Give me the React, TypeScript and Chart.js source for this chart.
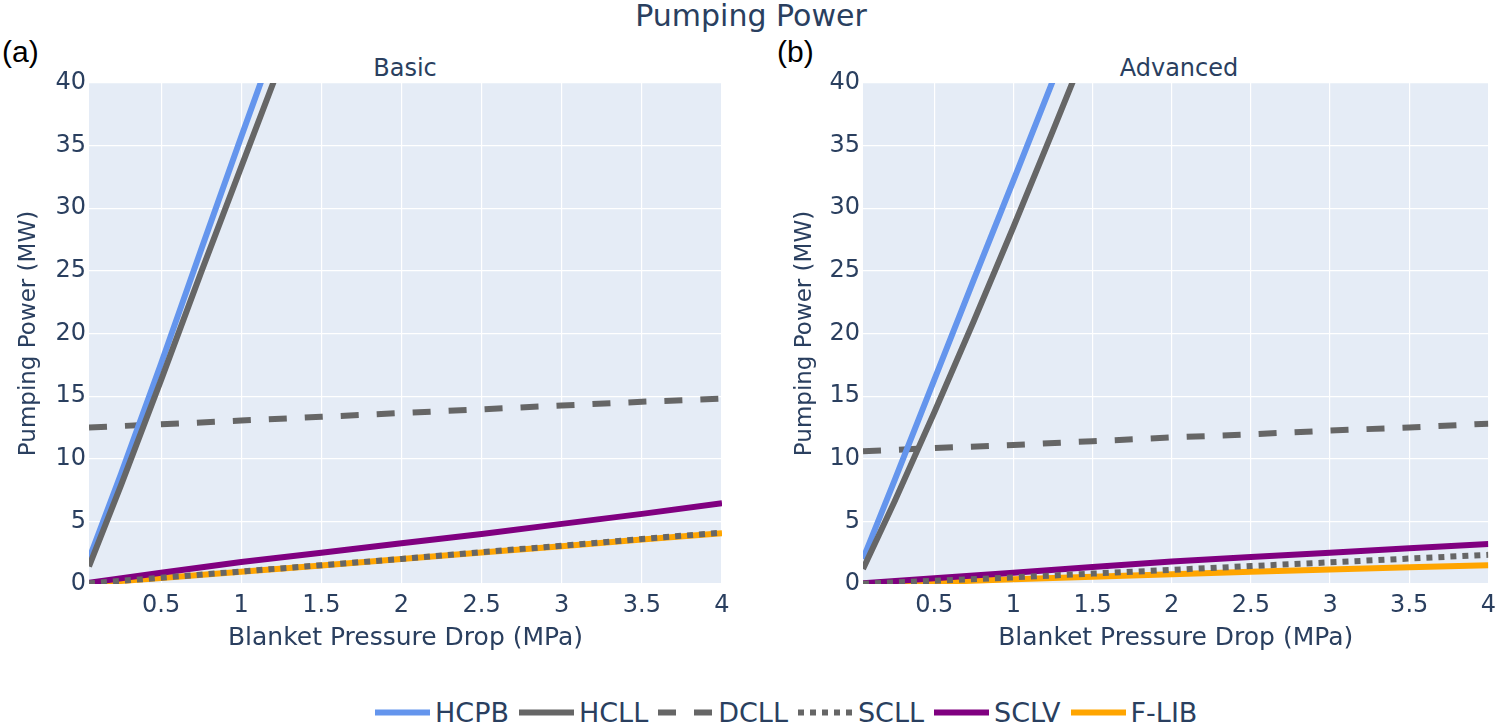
import React, { useEffect, useRef } from 'react'
import { Chart, registerables } from 'chart.js'

Chart.register(...registerables)

// pressure drop (MPa) sample points
const pressureDrop = [0.05, 0.5, 1, 1.5, 2, 2.5, 3, 3.5, 4]
const heliumDrop = [0.05, 0.25, 0.5, 0.75, 1, 1.25, 1.5]
const xTicks = [0.5, 1, 1.5, 2, 2.5, 3, 3.5, 4]

// Basic blankets (MW)
const hcpbBasic = [2.0, 8.8, 17.6, 26.7, 35.7, 44.6, 53.5]
const hcllBasic = [1.4, 7.9, 16.3, 24.9, 33.3, 41.7, 50.1]
const dcllBasic = [12.5, 12.75, 13.05, 13.35, 13.65, 13.95, 14.25, 14.55, 14.8]
const scllBasic = [0.05, 0.5, 1.0, 1.5, 2.0, 2.55, 3.05, 3.6, 4.1]
const sclvBasic = [0.1, 0.9, 1.75, 2.5, 3.25, 4.0, 4.8, 5.6, 6.45]
const flibBasic = [0.05, 0.48, 0.98, 1.48, 2.0, 2.52, 3.02, 3.55, 4.05]

// Advanced blankets (MW)
const hcpbAdv = [2.0, 8.3, 16.3, 24.3, 32.2, 40.2, 48.1]
const hcllAdv = [1.2, 6.6, 13.7, 21.0, 28.5, 36.2, 44.0]
const dcllAdv = [10.6, 10.85, 11.1, 11.4, 11.7, 11.95, 12.25, 12.5, 12.8]
const scllAdv = [0.02, 0.25, 0.53, 0.83, 1.13, 1.43, 1.73, 2.03, 2.33]
const sclvAdv = [0.05, 0.45, 0.9, 1.35, 1.8, 2.15, 2.5, 2.85, 3.2]
const flibAdv = [0.0, 0.15, 0.38, 0.58, 0.78, 0.97, 1.15, 1.33, 1.5]

const names = ['HCPB', 'HCLL', 'DCLL', 'SCLL', 'SCLV', 'F-LIB']
const colors = ['#6495ED', '#666666', '#666666', '#666666', '#800080', '#FFA500']
const dashes = [[], [], [18, 18], [6, 6], [], []]
const drawOrder = [1, 0, 2, 3, 4, 5]

const textColor = '#2a3f5f'
const font = 'DejaVu Sans'

const plotBg = {
	id: 'plotBg',
	beforeDraw(chart: Chart) {
		const { ctx, chartArea } = chart
		ctx.save()
		ctx.fillStyle = '#E5ECF6'
		ctx.fillRect(chartArea.left, chartArea.top, chartArea.width, chartArea.height)
		ctx.restore()
	},
}

const pair = (xs: number[], ys: number[]) => ys.map((y, i) => ({ x: xs[i], y }))

interface PanelProps {
	series: number[][]
	axisWidth: number
	padRight: number
	titlePad: number
	width: number
}

const Panel: React.FC<PanelProps> = ({ series, axisWidth, padRight, titlePad, width }) => {
	const canvasRef = useRef<HTMLCanvasElement>(null)

	useEffect(() => {
		if (!canvasRef.current) return
		const datasets = series.map((ys, i) => ({
			label: names[i],
			data: pair(i < 2 ? heliumDrop : pressureDrop, ys),
			borderColor: colors[i],
			backgroundColor: colors[i],
			borderWidth: 6,
			borderDash: dashes[i],
			borderCapStyle: 'butt' as const,
			pointRadius: 0,
			showLine: true,
			fill: false,
			tension: 0,
			clip: 0,
			order: drawOrder[i],
		}))

		const chart = new Chart(canvasRef.current, {
			type: 'scatter',
			data: { datasets },
			plugins: [plotBg],
			options: {
				animation: false,
				responsive: true,
				maintainAspectRatio: false,
				layout: { padding: { top: 23, right: padRight, left: 0, bottom: 0 } },
				plugins: { legend: { display: false }, tooltip: { enabled: false } },
				scales: {
					x: {
						type: 'linear',
						min: 0.05,
						max: 4,
						afterBuildTicks: (scale: any) => {
							scale.ticks = xTicks.map((value) => ({ value }))
						},
						afterFit: (scale: any) => {
							scale.height = 76
						},
						ticks: {
							color: textColor,
							font: { family: font, size: 24 },
							padding: 7,
							maxRotation: 0,
							autoSkip: false,
							callback: (v: any) => String(v),
						},
						grid: { color: '#ffffff', lineWidth: 1.2, drawTicks: false },
						border: { display: false },
						title: {
							display: true,
							text: 'Blanket Pressure Drop (MPa)',
							color: textColor,
							font: { family: font, size: 25 },
							padding: { top: 0, bottom: 7 },
						},
					},
					y: {
						type: 'linear',
						min: 0,
						max: 40,
						afterFit: (scale: any) => {
							scale.width = axisWidth
						},
						ticks: {
							stepSize: 5,
							color: textColor,
							font: { family: font, size: 24 },
							padding: 3,
						},
						grid: { color: '#ffffff', lineWidth: 1.2, drawTicks: false },
						border: { display: false },
						title: {
							display: true,
							text: 'Pumping Power (MW)',
							color: textColor,
							font: { family: font, size: 23 },
							padding: { top: titlePad, bottom: 0 },
						},
					},
				},
			},
		})

		return () => {
			chart.destroy()
		}
	}, [series, axisWidth, padRight, titlePad])

	return (
		<div style={{ position: 'relative', width, height: 600 }}>
			<canvas ref={canvasRef} />
		</div>
	)
}

const basicSeries = [hcpbBasic, hcllBasic, dcllBasic, scllBasic, sclvBasic, flibBasic]
const advancedSeries = [hcpbAdv, hcllAdv, dcllAdv, scllAdv, sclvAdv, flibAdv]

const centered = (x: number, y: number, size: number, extra: React.CSSProperties = {}) => ({
	position: 'absolute' as const,
	left: x,
	top: y,
	transform: 'translate(-50%, -50%)',
	fontSize: size,
	lineHeight: 1,
	whiteSpace: 'nowrap' as const,
	...extra,
})

const panelTag = (left: number): React.CSSProperties => ({
	position: 'absolute',
	left,
	top: 52,
	transform: 'translateY(-50%)',
	fontSize: 30,
	lineHeight: 1,
	color: '#000',
	fontFamily: 'Liberation Sans',
})

const LegendItem: React.FC<{ i: number }> = ({ i }) => (
	<div style={{ display: 'flex', alignItems: 'center', marginRight: 10 }}>
		<svg width={55} height={8}>
			<line
				x1={0}
				y1={4}
				x2={55}
				y2={4}
				stroke={colors[i]}
				strokeWidth={6}
				strokeDasharray={dashes[i].length ? dashes[i].join(',') : undefined}
			/>
		</svg>
		<span style={{ marginLeft: 5 }}>{names[i]}</span>
	</div>
)

export default function App() {
	return (
		<div
			style={{
				position: 'fixed',
				left: 0,
				top: 0,
				width: 1503,
				height: 727,
				background: '#ffffff',
				fontFamily: font,
				color: textColor,
				overflow: 'hidden',
			}}
		>
			<div style={centered(751, 16, 30)}>Pumping Power</div>
			<div style={panelTag(2)}>(a)</div>
			<div style={panelTag(777)}>(b)</div>
			<div style={centered(405, 68, 24)}>Basic</div>
			<div style={centered(1179, 68, 24)}>Advanced</div>
			<div style={{ position: 'absolute', left: 0, top: 60 }}>
				<Panel series={basicSeries} axisWidth={89} padRight={38} titlePad={15} width={760} />
			</div>
			<div style={{ position: 'absolute', left: 770, top: 60 }}>
				<Panel series={advancedSeries} axisWidth={93} padRight={8} titlePad={21} width={733} />
			</div>
			<div
				style={{
					position: 'absolute',
					left: 375,
					top: 712,
					transform: 'translateY(-50%)',
					display: 'flex',
					alignItems: 'center',
					fontSize: 27,
					lineHeight: 1,
				}}
			>
				{names.map((_, i) => (
					<LegendItem key={i} i={i} />
				))}
			</div>
		</div>
	)
}
